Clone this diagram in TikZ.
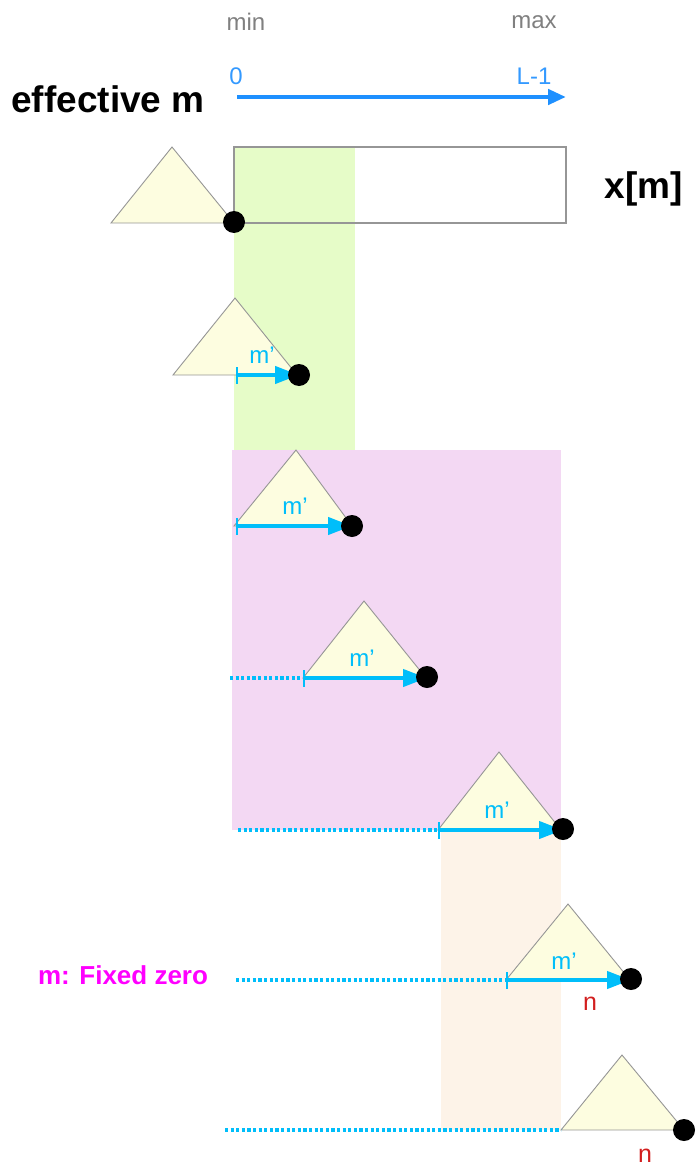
\documentclass[tikz,border=0pt]{standalone}
\usepackage{fontspec}
\setmainfont{Liberation Sans}
\usetikzlibrary{arrows.meta}
\definecolor{bandgreen}{RGB}{230,252,200}
\definecolor{bandpink}{RGB}{243,216,243}
\definecolor{bandpeach}{RGB}{253,243,232}
\definecolor{triyellow}{RGB}{253,253,224}
\definecolor{skyb}{RGB}{0,190,250}
\definecolor{axisblue}{RGB}{30,144,255}
\definecolor{lblblue}{RGB}{51,153,255}
\definecolor{greytxt}{RGB}{128,128,128}
\definecolor{nred}{RGB}{210,30,30}
\definecolor{edgegray}{RGB}{150,150,150}
\definecolor{fzmag}{RGB}{255,0,255}
\begin{document}
\begin{tikzpicture}[x=1pt,y=-1pt,
  tri/.style={draw=edgegray, fill=triyellow, line width=0.9pt, line join=miter},
  blackdot/.style={circle, fill=black, inner sep=0pt, minimum size=22pt},
  marr/.style={draw=skyb, line width=4.2pt, arrows={Bar[width=17pt,line width=2pt]-Triangle[length=24pt,width=17pt]}},
  dotl/.style={draw=skyb, line width=3.8pt, dash pattern=on 3.2pt off 2.4pt},
  mlbl/.style={text=skyb, font=\fontsize{24}{26}\selectfont},
  nlbl/.style={text=nred, font=\fontsize{25}{26}\selectfont},
  toplbl/.style={text=greytxt, font=\fontsize{24}{26}\selectfont},
  axlbl/.style={text=lblblue, font=\fontsize{24}{26}\selectfont},
  bigbold/.style={text=black, font=\fontsize{37}{40}\selectfont\bfseries}
]
\useasboundingbox (0,0) rectangle (697,1169);
% bands
\fill[bandgreen] (234,147) rectangle (355,450);
\fill[bandpink] (232,450) rectangle (561,830);
\fill[bandpeach] (441,830) rectangle (561,1130);
% top labels and axis
\node[toplbl] (minl) at (246,22) {min};
\node[toplbl] (maxl) at (534,22) {max};
\node[axlbl] (zero) at (236,76) {0};
\node[axlbl] (lm1) at (534,76) {L-1};
\coordinate (ax0) at (237,97);
\coordinate (ax1) at (566,97);
\draw[draw=axisblue, line width=4.5pt, arrows={-Triangle[length=18pt,width=15pt]}] (ax0) -- (ax1);
\node[bigbold] (eff) at (108,99) {effective m};
% signal box
\draw[draw=edgegray, line width=1.3pt] (234,147) rectangle (566,223);
\node[bigbold] (xm) at (644,189) {x[m]};
% triangle 1
\draw[tri] (111,223) -- (172,147) -- (234,223) -- cycle;
\node[blackdot] (d1) at (234,222) {};
% triangle 2
\draw[tri] (173,375) -- (235,298) -- (297,375) -- cycle;
\coordinate (s2) at (236,375);
\coordinate (e2) at (299,375);
\draw[marr] (s2) -- (e2);
\node[blackdot] (d2) at (e2) {};
\node[mlbl] (m2) at (262,355) {m’};
% triangle 3
\draw[tri] (234,526) -- (296,450) -- (352,526) -- cycle;
\coordinate (s3) at (236,526);
\coordinate (e3) at (352,526);
\draw[marr] (s3) -- (e3);
\node[blackdot] (d3) at (e3) {};
\node[mlbl] (m3) at (295,506) {m’};
% triangle 4
\draw[tri] (303,678) -- (364,601) -- (426,678) -- cycle;
\coordinate (f4) at (230,678);
\coordinate (s4) at (303,678);
\coordinate (e4) at (427,677);
\draw[dotl] (f4) -- (s4);
\draw[marr] (s4) -- (e4 |- s4);
\node[blackdot] (d4) at (e4) {};
\node[mlbl] (m4) at (362,658) {m’};
% triangle 5
\draw[tri] (438,830) -- (499,752) -- (561,830) -- cycle;
\coordinate (f5) at (238,830);
\coordinate (s5) at (438,830);
\coordinate (e5) at (563,829);
\draw[dotl] (f5) -- (s5);
\draw[marr] (s5) -- (e5 |- s5);
\node[blackdot] (d5) at (e5) {};
\node[mlbl] (m5) at (497,810) {m’};
% triangle 6
\draw[tri] (506,980) -- (568,904) -- (630,980) -- cycle;
\coordinate (f6) at (236,980);
\coordinate (s6) at (506,980);
\coordinate (e6) at (631,979);
\draw[dotl] (f6) -- (s6);
\draw[marr] (s6) -- (e6 |- s6);
\node[blackdot] (d6) at (e6) {};
\node[mlbl] (m6) at (564,961) {m’};
\node[nlbl] (n6) at (590,1004) {n};
\node[text=fzmag, font=\fontsize{26}{28}\selectfont\bfseries] (fz) at (123,975) {m: Fixed zero};
% triangle 7
\draw[tri] (561,1130) -- (622,1055) -- (684,1130) -- cycle;
\coordinate (f7) at (225,1130);
\coordinate (s7) at (561,1130);
\draw[dotl] (f7) -- (s7);
\node[blackdot] (d7) at (684,1130) {};
\node[nlbl] (n7) at (645,1156) {n};
\end{tikzpicture}
\end{document}
